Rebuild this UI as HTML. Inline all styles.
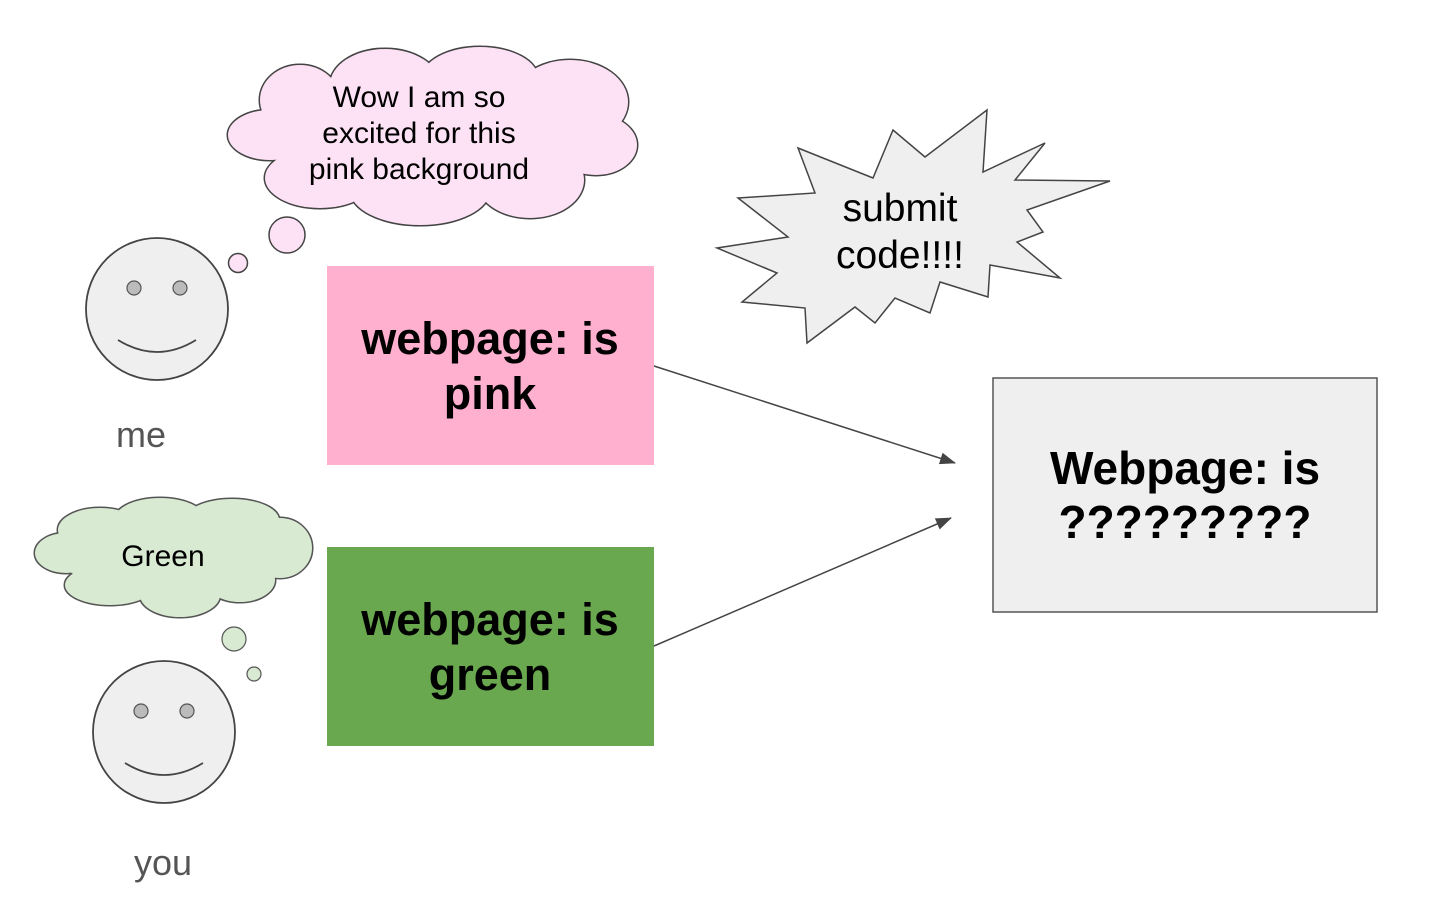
<!DOCTYPE html>
<html><head><meta charset="utf-8"><style>
html,body{margin:0;padding:0;background:#fff;}
svg{display:block;}
text{font-family:"Liberation Sans",Arial,sans-serif;}
</style></head><body>
<svg width="1456" height="921" viewBox="0 0 1456 921" xmlns="http://www.w3.org/2000/svg">
<defs>
<marker id="ah" markerWidth="16" markerHeight="12" refX="15" refY="6" orient="auto" markerUnits="userSpaceOnUse" viewBox="0 0 16 12">
<path d="M0,0 L16,6 L0,12 z" fill="#444"/>
</marker>
<g id="pinkc">
<ellipse cx="300" cy="100" rx="40" ry="35"/>
<ellipse cx="385" cy="85" rx="55" ry="36"/>
<ellipse cx="480" cy="78" rx="58" ry="31"/>
<ellipse cx="570" cy="102" rx="58" ry="42"/>
<ellipse cx="596" cy="145" rx="41" ry="30"/>
<ellipse cx="530" cy="180" rx="54" ry="38"/>
<ellipse cx="420" cy="190" rx="70" ry="35"/>
<ellipse cx="320" cy="178" rx="55" ry="30"/>
<ellipse cx="270" cy="135" rx="42" ry="25"/>
<ellipse cx="430" cy="135" rx="150" ry="60"/>
</g>
<g id="greenc">
<ellipse cx="100" cy="530" rx="42" ry="22"/>
<ellipse cx="160" cy="519" rx="45" ry="21"/>
<ellipse cx="232" cy="520" rx="47" ry="21"/>
<ellipse cx="280" cy="548" rx="32" ry="30"/>
<ellipse cx="240" cy="580" rx="35" ry="22"/>
<ellipse cx="180" cy="595" rx="40" ry="22"/>
<ellipse cx="110" cy="585" rx="45" ry="20"/>
<ellipse cx="66" cy="553" rx="31" ry="20"/>
<ellipse cx="170" cy="555" rx="110" ry="40"/>
</g>
</defs>

<use href="#pinkc" fill="#fde2f5" stroke="#444" stroke-width="3"/>
<use href="#pinkc" fill="#fde2f5"/>
<text x="419" y="107" font-size="30" text-anchor="middle" fill="#000">Wow I am so</text>
<text x="419" y="143" font-size="30" text-anchor="middle" fill="#000">excited for this</text>
<text x="419" y="179" font-size="30" text-anchor="middle" fill="#000">pink background</text>
<circle cx="287" cy="235" r="18" fill="#fde2f5" stroke="#444" stroke-width="1.5"/>
<circle cx="238" cy="263" r="9.5" fill="#fde2f5" stroke="#444" stroke-width="1.5"/>

<use href="#greenc" fill="#d9ead3" stroke="#555" stroke-width="3"/>
<use href="#greenc" fill="#d9ead3"/>
<text x="163" y="566" font-size="30" text-anchor="middle" fill="#000">Green</text>
<circle cx="234" cy="639" r="12" fill="#d9ead3" stroke="#555" stroke-width="1.2"/>
<circle cx="254" cy="674" r="7" fill="#d9ead3" stroke="#555" stroke-width="1.2"/>

<circle cx="157" cy="309" r="71" fill="#efefef" stroke="#444" stroke-width="1.8"/>
<circle cx="134" cy="288" r="7" fill="#bbb" stroke="#555" stroke-width="1.2"/>
<circle cx="180" cy="288" r="7" fill="#bbb" stroke="#555" stroke-width="1.2"/>
<path d="M118,340 Q157,364 196,340" fill="none" stroke="#444" stroke-width="1.8"/>
<text x="116" y="447" font-size="36" fill="#555">me</text>

<circle cx="164" cy="732" r="71" fill="#efefef" stroke="#444" stroke-width="1.8"/>
<circle cx="141" cy="711" r="7" fill="#bbb" stroke="#555" stroke-width="1.2"/>
<circle cx="187" cy="711" r="7" fill="#bbb" stroke="#555" stroke-width="1.2"/>
<path d="M125,763 Q164,787 203,763" fill="none" stroke="#444" stroke-width="1.8"/>
<text x="134" y="875" font-size="36" fill="#555">you</text>

<rect x="327" y="266" width="327" height="199" fill="#ffb0cf"/>
<text x="490" y="354" font-size="45" font-weight="bold" text-anchor="middle">webpage: is</text>
<text x="490" y="409" font-size="45" font-weight="bold" text-anchor="middle">pink</text>

<rect x="327" y="547" width="327" height="199" fill="#6aa84f"/>
<text x="490" y="635" font-size="45" font-weight="bold" text-anchor="middle">webpage: is</text>
<text x="490" y="690" font-size="45" font-weight="bold" text-anchor="middle">green</text>

<rect x="993" y="378" width="384" height="234" fill="#efefef" stroke="#555" stroke-width="1.5"/>
<text x="1185" y="484" font-size="46" font-weight="bold" text-anchor="middle">Webpage: is</text>
<text x="1185" y="538" font-size="46" font-weight="bold" text-anchor="middle">?????????</text>

<line x1="654" y1="366" x2="955" y2="463" stroke="#444" stroke-width="1.5" marker-end="url(#ah)"/>
<line x1="654" y1="646" x2="951" y2="518" stroke="#444" stroke-width="1.5" marker-end="url(#ah)"/>

<polygon points="798,148 873,178 893,130 925,157 987,110 983,172 1045,143 1015,180 1110,181 1027,210 1043,232 1017,242 1060,278 990,265 988,297 940,282 930,313 895,298 875,323 855,307 807,343 805,308 742,302 777,273 717,248 788,237 738,198 815,193" fill="#efefef" stroke="#444" stroke-width="1.5"/>
<text x="900" y="221" font-size="39" text-anchor="middle">submit</text>
<text x="900" y="268" font-size="39" text-anchor="middle">code!!!!</text>
</svg>
</body></html>
